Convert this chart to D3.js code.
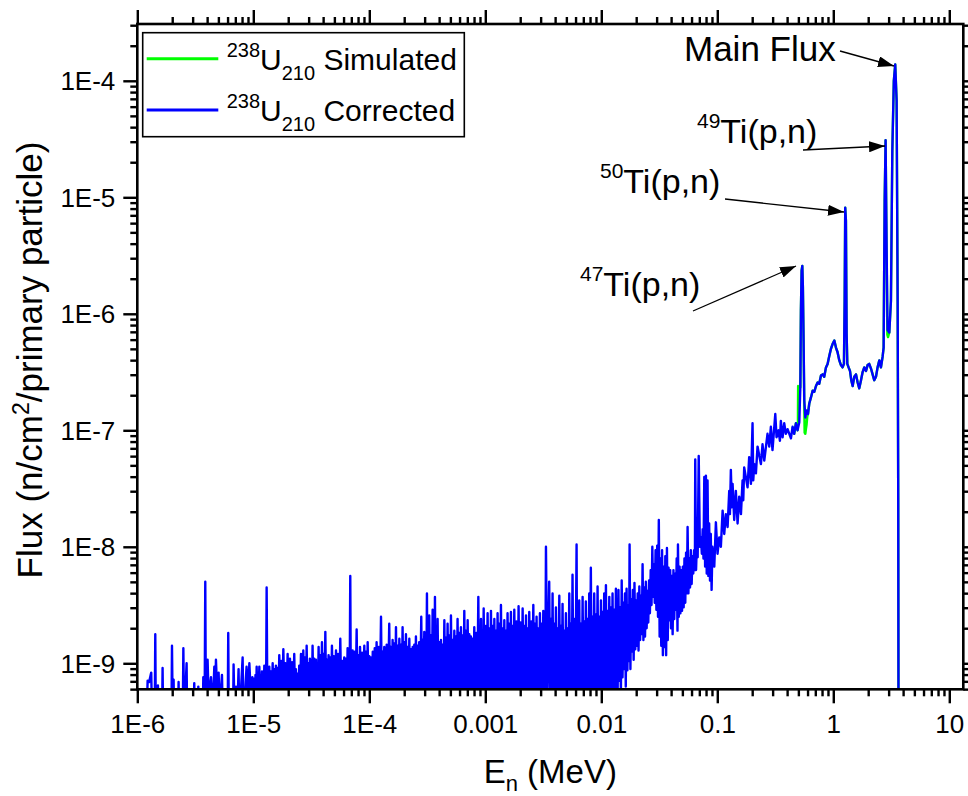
<!DOCTYPE html>
<html><head><meta charset="utf-8">
<script src="https://cdn.jsdelivr.net/npm/d3@7"></script>
<style>
html,body{margin:0;padding:0;background:#fff;}
svg{display:block;}
text{font-family:"Liberation Sans",Arial,sans-serif;fill:#000;}
</style></head><body>
<svg id="chart" width="968" height="796"></svg>
<script>
// ---------- DATA (log10 energy [MeV], log10 flux) as flat pairs ----------
// below 1E-5 MeV: isolated spikes, line falls below the axis between them
const correctedLow = [
-5.960,-9.5, -5.920,-9.5, -5.911,-9.15, -5.898,-9.16, -5.880,-9.08, -5.872,-9.5, -5.850,-9.5, -5.845,-8.75, -5.840,-9.5,
-5.826,-9.5, -5.822,-9.19, -5.818,-9.5, -5.787,-9.5, -5.782,-9.04, -5.777,-9.5, -5.706,-9.5, -5.701,-8.85, -5.694,-9.5,
-5.687,-9.14, -5.682,-9.5, -5.649,-9.5, -5.644,-9.16, -5.639,-9.5, -5.608,-9.5, -5.603,-8.87, -5.596,-9.5, -5.575,-9.00,
-5.570,-9.5, -5.514,-9.5, -5.509,-9.17, -5.504,-9.5, -5.479,-9.5, -5.474,-9.20, -5.469,-9.5, -5.436,-9.5, -5.431,-9.12,
-5.420,-9.45, -5.414,-8.30, -5.409,-9.35, -5.394,-8.97, -5.385,-9.3, -5.365,-9.12, -5.350,-9.4, -5.336,-9.03, -5.330,-9.3,
-5.322,-8.97, -5.310,-9.3, -5.299,-9.08, -5.290,-9.4, -5.270,-9.10, -5.262,-9.5, -5.221,-9.5, -5.216,-8.74, -5.211,-9.5,
-5.175,-9.5, -5.170,-9.01, -5.160,-9.5, -5.149,-9.20, -5.140,-9.5, -5.127,-9.05, -5.120,-9.5, -5.092,-8.95, -5.085,-9.5,
-5.058,-9.03, -5.045,-9.3, -5.034,-9.00, -5.020,-9.3, -5.008,-9.12, -4.998,-9.3
];
// 1E-5 .. 3E-3 MeV: dense noisy band filled down to the axis
const correctedMid = [
-4.991,-9.13, -4.986,-9.3, -4.981,-9.10, -4.976,-9.3, -4.971,-9.03, -4.965,-9.3, -4.960,-9.08, -4.954,-9.3,
-4.948,-9.03, -4.942,-9.3, -4.937,-9.12, -4.931,-9.3, -4.925,-9.07, -4.920,-9.3, -4.915,-9.09, -4.910,-9.3,
-4.905,-9.02, -4.900,-9.3, -4.895,-9.06, -4.890,-9.3, -4.885,-8.35, -4.879,-9.3, -4.874,-9.10, -4.868,-9.3,
-4.862,-9.03, -4.855,-9.3, -4.848,-9.07, -4.840,-9.3, -4.833,-9.00, -4.826,-9.3, -4.819,-9.05, -4.812,-9.3,
-4.805,-9.02, -4.798,-9.3, -4.791,-9.04, -4.783,-9.3, -4.776,-8.93, -4.767,-9.3, -4.759,-8.98, -4.750,-9.3,
-4.741,-8.88, -4.732,-9.3, -4.723,-9.00, -4.713,-9.3, -4.704,-8.92, -4.699,-9.3, -4.694,-9.03, -4.689,-9.3,
-4.684,-8.96, -4.675,-9.3, -4.666,-8.99, -4.656,-9.3, -4.647,-8.92, -4.640,-9.3, -4.633,-9.05, -4.625,-9.3,
-4.618,-9.09, -4.611,-9.3, -4.604,-9.02, -4.596,-9.3, -4.589,-8.92, -4.584,-9.3, -4.579,-8.97, -4.574,-9.3,
-4.569,-8.89, -4.562,-9.3, -4.555,-8.95, -4.547,-9.3, -4.540,-8.85, -4.533,-9.3, -4.526,-9.00, -4.519,-9.3,
-4.512,-8.96, -4.506,-9.3, -4.501,-8.98, -4.495,-9.3, -4.489,-8.85, -4.482,-9.3, -4.475,-8.96, -4.467,-9.3,
-4.460,-8.97, -4.454,-9.3, -4.449,-9.00, -4.443,-9.3, -4.437,-8.86, -4.430,-9.3, -4.423,-8.93, -4.415,-9.3,
-4.408,-8.82, -4.401,-9.3, -4.394,-8.92, -4.386,-9.3, -4.379,-8.73, -4.372,-9.3, -4.365,-8.97, -4.358,-9.3,
-4.351,-8.93, -4.344,-9.3, -4.337,-8.95, -4.329,-9.3, -4.322,-8.85, -4.313,-9.3, -4.305,-8.94, -4.296,-9.3,
-4.287,-8.89, -4.278,-9.3, -4.269,-8.92, -4.259,-9.3, -4.250,-8.79, -4.242,-9.3, -4.233,-8.98, -4.225,-9.3,
-4.216,-8.95, -4.209,-9.3, -4.202,-8.96, -4.194,-9.3, -4.187,-8.87, -4.181,-9.3, -4.176,-8.93, -4.170,-9.3,
-4.164,-8.25, -4.159,-9.3, -4.154,-8.95, -4.149,-9.3, -4.144,-8.89, -4.135,-9.3, -4.127,-8.90, -4.118,-9.3,
-4.109,-8.71, -4.102,-9.3, -4.095,-8.93, -4.087,-9.3, -4.080,-8.86, -4.071,-9.3, -4.062,-8.91, -4.052,-9.3,
-4.043,-8.85, -4.036,-9.3, -4.029,-8.90, -4.021,-9.3, -4.014,-8.82, -4.007,-9.3, -4.000,-8.94, -3.993,-9.3,
-3.986,-8.95, -3.978,-9.3, -3.970,-8.90, -3.962,-9.3, -3.953,-8.87, -3.945,-9.3, -3.937,-8.82, -3.928,-9.3,
-3.918,-8.86, -3.909,-9.3, -3.899,-8.60, -3.892,-9.3, -3.885,-8.90, -3.878,-9.3, -3.871,-8.86, -3.860,-9.3,
-3.850,-8.84, -3.839,-9.3, -3.828,-8.66, -3.821,-9.3, -3.814,-8.86, -3.806,-9.3, -3.799,-8.80, -3.792,-9.3,
-3.785,-8.83, -3.777,-9.3, -3.770,-8.69, -3.763,-9.3, -3.756,-8.85, -3.748,-9.3, -3.741,-8.79, -3.734,-9.3,
-3.727,-8.84, -3.720,-9.3, -3.713,-8.69, -3.706,-9.3, -3.699,-8.82, -3.691,-9.3, -3.684,-8.75, -3.677,-9.3,
-3.670,-8.86, -3.662,-9.3, -3.655,-8.79, -3.648,-9.3, -3.641,-8.88, -3.633,-9.3, -3.626,-8.86, -3.619,-9.3,
-3.612,-8.84, -3.605,-9.3, -3.598,-8.77, -3.592,-9.3, -3.586,-8.85, -3.580,-9.3, -3.570,-8.82, -3.561,-9.3,
-3.552,-8.60, -3.545,-9.3, -3.539,-8.80, -3.532,-9.3, -3.526,-8.73, -3.520,-9.3, -3.515,-8.82, -3.509,-9.3,
-3.503,-8.40, -3.498,-9.3, -3.493,-8.78, -3.488,-9.3, -3.483,-8.59, -3.476,-9.3, -3.469,-8.76, -3.461,-9.3,
-3.454,-8.54, -3.449,-9.3, -3.444,-8.80, -3.439,-9.3, -3.434,-8.43, -3.428,-9.3, -3.423,-8.77, -3.417,-9.3,
-3.411,-8.62, -3.404,-9.3, -3.397,-8.82, -3.389,-9.3, -3.382,-8.80, -3.375,-9.3, -3.368,-8.84, -3.360,-9.3,
-3.353,-8.63, -3.346,-9.3, -3.339,-8.78, -3.332,-9.3, -3.325,-8.66, -3.318,-9.3, -3.311,-8.76, -3.303,-9.3,
-3.296,-8.59, -3.289,-9.3, -3.282,-8.80, -3.274,-9.3, -3.267,-8.72, -3.260,-9.3, -3.253,-8.77, -3.246,-9.3,
-3.239,-8.62, -3.232,-9.3, -3.225,-8.74, -3.217,-9.3, -3.210,-8.69, -3.203,-9.3, -3.196,-8.76, -3.188,-9.3,
-3.181,-8.55, -3.174,-9.3, -3.167,-8.72, -3.159,-9.3, -3.152,-8.63, -3.145,-9.3, -3.138,-8.75, -3.131,-9.3,
-3.124,-8.77, -3.117,-9.3, -3.110,-8.79, -3.102,-9.3, -3.095,-8.69, -3.086,-9.3, -3.078,-8.74, -3.069,-9.3,
-3.060,-8.43, -3.054,-9.3, -3.049,-8.70, -3.043,-9.3, -3.037,-8.62, -3.031,-9.3, -3.026,-8.72, -3.020,-9.3,
-3.014,-8.53, -3.006,-9.3, -2.997,-8.68, -2.989,-9.3, -2.980,-8.57, -2.973,-9.3, -2.966,-8.70, -2.958,-9.3,
-2.951,-8.55, -2.944,-9.3, -2.937,-8.68, -2.929,-9.3, -2.922,-8.62, -2.915,-9.3, -2.908,-8.72, -2.901,-9.3,
-2.894,-8.57, -2.887,-9.3, -2.880,-8.66, -2.872,-9.3, -2.865,-8.50, -2.858,-9.3, -2.851,-8.70, -2.843,-9.3,
-2.836,-8.63, -2.829,-9.3, -2.822,-8.72, -2.815,-9.3, -2.808,-8.57, -2.801,-9.3, -2.794,-8.66, -2.786,-9.3,
-2.779,-8.56, -2.772,-9.3, -2.765,-8.68, -2.757,-9.3, -2.750,-8.54, -2.741,-9.3, -2.732,-8.64, -2.722,-9.3,
-2.713,-8.51, -2.704,-9.3, -2.696,-8.65, -2.687,-9.3, -2.678,-8.53, -2.671,-9.3, -2.664,-8.68, -2.656,-9.3,
-2.649,-8.59, -2.642,-9.3, -2.635,-8.70, -2.628,-9.3, -2.621,-8.56, -2.612,-9.3, -2.604,-8.64, -2.595,-9.3,
-2.586,-8.50, -2.579,-9.3, -2.572,-8.66, -2.565,-9.3, -2.558,-8.60, -2.551,-9.3, -2.544,-8.70, -2.536,-9.3,
-2.529,-8.57, -2.522,-9.3, -2.515,-8.66, -2.507,-9.3, -2.500,-8.55, -2.494,-9.3, -2.489,-8.65, -2.483,-9.3,
-2.477,-8.00, -2.465,-9.3
];
// 3E-3 .. 0.1 MeV: band leaving the axis and narrowing
const correctedHigh = [
-2.449,-8.30, -2.441,-9.3, -2.434,-8.62, -2.427,-9.3, -2.420,-8.40, -2.413,-9.3, -2.406,-8.66, -2.398,-9.3, -2.391,-8.52,
-2.384,-9.3, -2.377,-8.70, -2.370,-9.3, -2.362,-8.42, -2.355,-9.3, -2.348,-8.68, -2.341,-9.3, -2.334,-8.49, -2.326,-9.3,
-2.319,-8.72, -2.312,-9.3, -2.305,-8.57, -2.298,-9.3, -2.291,-8.70, -2.283,-9.3, -2.276,-8.40, -2.269,-9.3, -2.262,-8.66,
-2.255,-9.3, -2.248,-8.24, -2.240,-9.3, -2.233,-8.62, -2.223,-9.3, -2.213,-7.98, -2.208,-9.3, -2.204,-8.60, -2.197,-9.3,
-2.190,-8.46, -2.183,-9.3, -2.176,-8.66, -2.168,-9.3, -2.161,-8.43, -2.154,-9.3, -2.147,-8.64, -2.140,-9.3, -2.133,-8.47,
-2.126,-9.3, -2.118,-8.62, -2.111,-9.3, -2.104,-8.40, -2.098,-9.3, -2.090,-8.18, -2.083,-9.3, -2.075,-8.60, -2.068,-9.3,
-2.061,-8.40, -2.054,-9.3, -2.046,-8.58, -2.039,-9.3, -2.032,-8.34, -2.025,-9.3, -2.018,-8.60, -2.010,-9.3, -2.003,-8.46,
-1.996,-9.3, -1.989,-8.56, -1.982,-9.3, -1.975,-8.40, -1.969,-9.3, -1.960,-8.33, -1.953,-9.3, -1.946,-8.55, -1.939,-9.3,
-1.931,-8.43, -1.924,-9.3, -1.917,-8.52, -1.910,-9.3, -1.903,-8.40, -1.896,-9.3, -1.888,-8.54, -1.881,-9.3, -1.874,-8.36,
-1.868,-9.3, -1.866,-8.45, -1.859,-9.25, -1.852,-8.37, -1.845,-9.15, -1.838,-8.52, -1.831,-9.28, -1.824,-8.29, -1.817,-9.12,
-1.810,-8.48, -1.803,-9.05, -1.796,-8.40, -1.789,-9.20, -1.782,-8.36, -1.775,-9.06, -1.768,-8.50, -1.761,-8.98, -1.756,-7.98,
-1.749,-9.05, -1.742,-8.45, -1.735,-8.90, -1.728,-8.37, -1.721,-8.97, -1.714,-8.31, -1.707,-8.88, -1.700,-8.46, -1.693,-8.85,
-1.686,-8.40, -1.679,-8.89, -1.672,-8.34, -1.665,-8.80, -1.658,-8.42, -1.651,-8.75, -1.644,-8.15, -1.637,-8.80, -1.630,-8.35,
-1.623,-8.77, -1.616,-8.30, -1.609,-8.70, -1.602,-8.38, -1.595,-8.65, -1.588,-8.29, -1.581,-8.57, -1.574,-8.20, -1.567,-8.50,
-1.560,-8.00, -1.553,-8.43, -1.546,-8.15, -1.539,-8.48, -1.532,-8.03, -1.525,-8.54, -1.518,-7.99, -1.511,-8.60, -1.504,-7.77,
-1.497,-8.77, -1.490,-8.10, -1.483,-8.85, -1.476,-8.03, -1.469,-8.93, -1.462,-8.17, -1.455,-8.86, -1.448,-8.08, -1.441,-8.93,
-1.434,-8.01, -1.427,-8.80, -1.420,-8.18, -1.413,-8.63, -1.406,-8.20, -1.399,-8.70, -1.392,-8.25, -1.385,-8.75, -1.378,-8.20,
-1.371,-8.62, -1.364,-8.23, -1.357,-8.54, -1.350,-8.10, -1.343,-8.72, -1.339,-7.98, -1.332,-8.60, -1.325,-8.17, -1.318,-8.57,
-1.311,-8.20, -1.304,-8.55, -1.297,-8.17, -1.290,-8.52, -1.283,-8.10, -1.276,-8.48, -1.269,-8.05, -1.262,-8.40, -1.256,-7.83,
-1.249,-8.40, -1.242,-8.10, -1.235,-8.35, -1.228,-8.03, -1.221,-8.32, -1.214,-8.08, -1.207,-8.23, -1.200,-8.03, -1.193,-8.20,
-1.190,-7.25, -1.183,-8.20, -1.176,-7.97, -1.169,-8.09, -1.160,-7.22, -1.150,-8.00, -1.141,-7.92, -1.133,-8.06, -1.126,-7.85,
-1.119,-8.10, -1.112,-7.40, -1.105,-8.17, -1.098,-7.39, -1.091,-8.23, -1.084,-7.43, -1.077,-8.25, -1.070,-7.80, -1.063,-8.29,
-1.056,-7.89, -1.049,-8.37, -1.042,-8.00
];
// 0.1 .. 0.5 MeV: noisy rising line
const correctedUpper = [
-1.026,-8.17, -1.012,-7.79, -0.998,-8.06, -0.983,-7.92, -0.969,-8.00, -0.954,-7.69, -0.940,-7.89,
-0.926,-7.72, -0.911,-7.83, -0.897,-7.52, -0.891,-7.72, -0.883,-7.34, -0.874,-7.66, -0.868,-7.46, -0.854,-7.77, -0.840,-7.52,
-0.825,-7.80, -0.811,-7.57, -0.796,-7.72, -0.782,-7.43, -0.776,-7.60, -0.768,-7.32, -0.739,-7.49, -0.725,-7.23, -0.710,-7.46,
-0.696,-6.94, -0.690,-7.43, -0.681,-7.29, -0.667,-7.37, -0.653,-7.14, -0.624,-7.29, -0.610,-7.12, -0.595,-7.26, -0.567,-7.03,
-0.552,-7.14, -0.538,-6.97, -0.524,-7.17, -0.500,-6.86, -0.489,-7.06, -0.472,-7.00, -0.460,-7.09, -0.452,-6.92, -0.437,-7.06,
-0.423,-6.94, -0.409,-7.03, -0.394,-6.99, -0.365,-7.07, -0.351,-6.97, -0.337,-7.03, -0.322,-6.94, -0.308,-7.00
];
// 0.5 .. 4 MeV: 47Ti, 50Ti, 49Ti peaks and main flux
const correctedPeaks = [
-0.293,-6.93, -0.284,-6.63, -0.279,-5.97, -0.273,-5.63, -0.267,-5.59, -0.262,-5.77, -0.256,-6.23, -0.250,-6.74, -0.241,-6.89,
-0.230,-6.83, -0.218,-6.86, -0.207,-6.77, -0.193,-6.72, -0.178,-6.66, -0.164,-6.67, -0.149,-6.62, -0.135,-6.59, -0.121,-6.60,
-0.106,-6.53, -0.092,-6.52, -0.078,-6.54, -0.063,-6.46, -0.049,-6.43, -0.034,-6.36, -0.020,-6.30, -0.006,-6.26, 0.009,-6.23,
0.023,-6.29, 0.037,-6.33, 0.052,-6.40, 0.066,-6.44, 0.080,-6.46, 0.092,-6.43, 0.098,-5.89, 0.103,-5.09, 0.109,-5.20,
0.115,-6.17, 0.121,-6.43, 0.132,-6.46, 0.144,-6.49, 0.155,-6.57, 0.167,-6.62, 0.181,-6.54, 0.196,-6.52, 0.210,-6.59,
0.224,-6.64, 0.239,-6.57, 0.253,-6.50, 0.267,-6.46, 0.282,-6.49, 0.296,-6.44, 0.310,-6.43, 0.325,-6.47, 0.339,-6.52,
0.353,-6.57, 0.368,-6.54, 0.382,-6.46, 0.397,-6.40, 0.411,-6.46, 0.425,-6.37, 0.434,-6.29, 0.443,-5.03, 0.451,-4.51,
0.460,-5.46, 0.468,-6.14, 0.483,-6.16, 0.497,-5.89, 0.509,-4.60, 0.522,-4.00, 0.534,-3.86, 0.546,-4.17, 0.555,-5.89,
0.560,-7.60, 0.563,-10.0
];
// Simulated spectrum: coincides with the corrected one except around the 47Ti peak; shown where it differs
const simulatedPeaks = [
-0.351,-6.97, -0.337,-7.03, -0.322,-6.94, -0.308,-7.00, -0.305,-6.95, -0.303,-6.62, -0.292,-6.63, -0.284,-6.63, -0.279,-5.97,
-0.273,-5.63, -0.267,-5.59, -0.262,-5.77, -0.256,-6.23, -0.250,-6.80, -0.247,-7.02, -0.241,-7.03, -0.236,-6.99, -0.230,-6.95,
-0.224,-6.88, -0.218,-6.86, -0.207,-6.77, -0.193,-6.72, -0.178,-6.66, -0.164,-6.67, -0.149,-6.62, -0.135,-6.59, -0.121,-6.60,
-0.106,-6.53, -0.092,-6.52, -0.078,-6.54, -0.063,-6.46, -0.049,-6.43, -0.034,-6.36, -0.020,-6.30, -0.006,-6.26, 0.009,-6.23,
0.023,-6.29, 0.037,-6.33, 0.052,-6.40, 0.066,-6.44, 0.080,-6.46, 0.092,-6.43, 0.098,-5.89, 0.103,-5.09, 0.109,-5.20,
0.115,-6.17, 0.121,-6.43, 0.132,-6.46, 0.144,-6.49, 0.155,-6.57, 0.167,-6.62, 0.181,-6.54, 0.196,-6.52, 0.210,-6.59,
0.224,-6.64, 0.239,-6.57, 0.253,-6.50, 0.267,-6.46, 0.282,-6.49, 0.296,-6.44, 0.310,-6.43, 0.325,-6.47, 0.339,-6.52,
0.353,-6.57, 0.368,-6.54, 0.382,-6.46, 0.397,-6.40, 0.411,-6.46, 0.425,-6.37, 0.434,-6.29, 0.443,-5.03, 0.451,-4.51,
0.460,-5.46, 0.466,-6.18, 0.472,-6.20, 0.483,-6.16, 0.497,-5.89, 0.509,-4.60, 0.522,-4.00, 0.534,-3.86, 0.546,-4.17,
0.555,-5.89, 0.560,-7.60, 0.563,-10.0
];

const xTickValues = [1e-6, 1e-5, 1e-4, 1e-3, 1e-2, 1e-1, 1, 10];
const xTickLabels = ["1E-6", "1E-5", "1E-4", "0.001", "0.01", "0.1", "1", "10"];
const yTickValues = [1e-9, 1e-8, 1e-7, 1e-6, 1e-5, 1e-4];
const yTickLabels = ["1E-9", "1E-8", "1E-7", "1E-6", "1E-5", "1E-4"];
const seriesNames = ["Simulated", "Corrected"];
const seriesColors = ["#00ff00", "#0000ff"];
const annotations = [
  {sup: "", text: "Main Flux", tx: 684, ty: 61, x1: 840, y1: 51, x2: 894, y2: 66},
  {sup: "49", text: "Ti(p,n)", tx: 697, ty: 143, x1: 803, y1: 150, x2: 885, y2: 146},
  {sup: "50", text: "Ti(p,n)", tx: 600, ty: 193, x1: 725, y1: 199, x2: 844, y2: 212},
  {sup: "47", text: "Ti(p,n)", tx: 580, ty: 296, x1: 693, y1: 311, x2: 796, y2: 266}
];

// ---------- CHART ----------
function toPoints(flat) {
  const out = [];
  for (let i = 0; i < flat.length; i += 2) out.push({e: Math.pow(10, flat[i]), f: Math.pow(10, flat[i + 1])});
  return out;
}
const corrected = toPoints([].concat(correctedLow, correctedMid, correctedHigh, correctedUpper, correctedPeaks));
const simulated = toPoints(simulatedPeaks);

const P = {left: 137.3, top: 24, right: 963.3, bottom: 689.3};
const svg = d3.select("#chart");
const x = d3.scaleLog().domain([1e-6, 13.21]).range([P.left, P.right]);
const y = d3.scaleLog().domain([5.98e-10, 3.073e-4]).range([P.bottom, P.top]);

const xMinor = [], yMinor = [];
for (let d = -6; d <= 1; d++) for (let k = 2; k <= 9; k++) { const v = k * Math.pow(10, d); if (v < 13.21) xMinor.push(v); }
for (let d = -10; d <= -4; d++) for (let k = 2; k <= 9; k++) { const v = k * Math.pow(10, d); if (v > 5.98e-10 && v < 3.073e-4) yMinor.push(v); }

svg.append("defs").append("clipPath").attr("id", "clip")
  .append("rect").attr("x", P.left).attr("y", P.top).attr("width", P.right - P.left).attr("height", P.bottom - P.top);

const line = d3.line().x(d => x(d.e)).y(d => y(d.f));
const lines = svg.append("g").attr("clip-path", "url(#clip)");
[simulated, corrected].forEach((s, i) => {
  lines.append("path").datum(s).attr("d", line).attr("fill", "none")
    .attr("stroke", seriesColors[i]).attr("stroke-width", 2.4).attr("stroke-linejoin", "round");
});

function style(g) { g.select(".domain").remove(); g.selectAll(".tick line").attr("stroke", "#000").attr("stroke-width", 2.4); }
const fmtX = (d, i) => xTickLabels[i];
const fmtY = (d, i) => yTickLabels[i];
// bottom
const gb = svg.append("g").attr("transform", `translate(0,${P.bottom})`);
gb.append("g").call(d3.axisBottom(x).tickValues(xMinor).tickSize(7).tickFormat("")).call(style);
gb.append("g").call(d3.axisBottom(x).tickValues(xTickValues).tickSize(14).tickFormat(fmtX)).call(style)
  .selectAll("text").attr("y", 44).attr("dy", 0).style("font-size", "26px");
// top
const gt = svg.append("g").attr("transform", `translate(0,${P.top})`);
gt.append("g").call(d3.axisTop(x).tickValues(xMinor).tickSize(7).tickFormat("")).call(style);
gt.append("g").call(d3.axisTop(x).tickValues(xTickValues).tickSize(14).tickFormat("")).call(style);
// left
const gl = svg.append("g").attr("transform", `translate(${P.left},0)`);
gl.append("g").call(d3.axisLeft(y).tickValues(yMinor).tickSize(7).tickFormat("")).call(style);
gl.append("g").call(d3.axisLeft(y).tickValues(yTickValues).tickSize(14).tickPadding(8).tickFormat(fmtY)).call(style)
  .selectAll("text").attr("dy", "0.35em").style("font-size", "26px");
// right
const gr = svg.append("g").attr("transform", `translate(${P.right},0)`);
gr.append("g").call(d3.axisRight(y).tickValues(yMinor).tickSize(7).tickFormat("")).call(style);
gr.append("g").call(d3.axisRight(y).tickValues(yTickValues).tickSize(14).tickFormat("")).call(style);

svg.selectAll(".tick text").attr("fill", "#000").style("font-family", '"Liberation Sans",Arial,sans-serif');

// frame
svg.append("rect").attr("x", P.left).attr("y", P.top).attr("width", P.right - P.left).attr("height", P.bottom - P.top)
  .attr("fill", "none").attr("stroke", "#000").attr("stroke-width", 2.6);

// axis titles
const xt = svg.append("text").attr("x", (P.left + P.right) / 2).attr("y", 783).attr("text-anchor", "middle").style("font-size", "33px");
xt.append("tspan").text("E");
xt.append("tspan").attr("dy", 8).style("font-size", "22px").text("n");
xt.append("tspan").attr("dy", -8).text(" (MeV)");

const yt = svg.append("text").attr("transform", "translate(41.7,360) rotate(-90)").attr("text-anchor", "middle").style("font-size", "35px");
yt.append("tspan").text("Flux (n/cm");
yt.append("tspan").attr("dy", -13).style("font-size", "23px").text("2");
yt.append("tspan").attr("dy", 13).text("/primary particle)");

// legend
const lg = svg.append("g");
lg.append("rect").attr("x", 142.7).attr("y", 32.7).attr("width", 321.6).attr("height", 104)
  .attr("fill", "#fff").attr("stroke", "#000").attr("stroke-width", 1.6);
seriesNames.forEach((name, i) => {
  const ly = 58.7 + i * 51.3;
  lg.append("line").attr("x1", 146.7).attr("x2", 218.3).attr("y1", ly).attr("y2", ly)
    .attr("stroke", seriesColors[i]).attr("stroke-width", 3);
  const t = lg.append("text").attr("x", 226.7).attr("y", ly + 11.3).style("font-size", "30px");
  t.append("tspan").attr("dy", -13).style("font-size", "20px").text("238");
  t.append("tspan").attr("dy", 13).text("U");
  t.append("tspan").attr("dy", 10).style("font-size", "20px").text("210");
  t.append("tspan").attr("dy", -10).text(" " + name);
});

// annotations
const defs = svg.select("defs");
defs.append("marker").attr("id", "arrow").attr("markerUnits", "userSpaceOnUse")
  .attr("markerWidth", 16).attr("markerHeight", 11).attr("refX", 16).attr("refY", 5.5).attr("orient", "auto")
  .append("path").attr("d", "M0,0 L16,5.5 L0,11 Z").attr("fill", "#000");
annotations.forEach(a => {
  svg.append("line").attr("x1", a.x1).attr("y1", a.y1).attr("x2", a.x2).attr("y2", a.y2)
    .attr("stroke", "#000").attr("stroke-width", 1.3).attr("marker-end", "url(#arrow)");
  const t = svg.append("text").attr("x", a.tx).attr("y", a.ty).style("font-size", a.sup ? "34px" : "35px");
  if (a.sup) {
    t.append("tspan").attr("dy", -15).style("font-size", "21px").text(a.sup);
    t.append("tspan").attr("dy", 15).text(a.text);
  } else {
    t.text(a.text);
  }
});
</script>
</body></html>
